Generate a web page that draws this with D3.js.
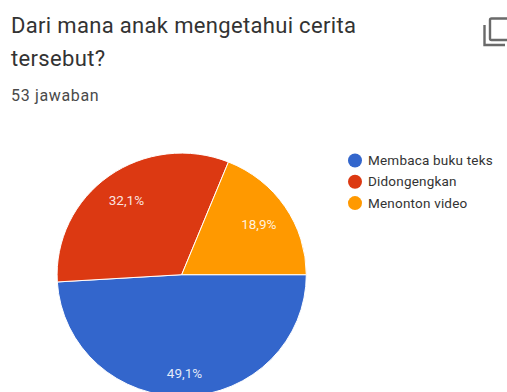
<!DOCTYPE html>
<html>
<head>
<meta charset="utf-8">
<script src="https://cdn.jsdelivr.net/npm/d3@7/dist/d3.min.js"></script>
<style>
html, body { margin: 0; padding: 0; background: #fff; overflow: hidden; }
svg { display: block; }
text { font-family: Roboto, sans-serif; }
</style>
</head>
<body>
<svg id="chart" width="507" height="392"></svg>
<script>
// Survey answers, in percent as printed on the slices
const categories = ["Membaca buku teks", "Didongengkan", "Menonton video"];
const shares = [49.1, 32.1, 18.9];
const shareLabels = ["49,1%", "32,1%", "18,9%"];
const colors = ["#3366cc", "#dc3912", "#ff9900"];
const titleLines = ["Dari mana anak mengetahui cerita", "tersebut?"];
const subtitle = "53 jawaban";

const svg = d3.select("#chart");

// Heading block
svg.selectAll("text.title")
  .data(titleLines)
  .join("text")
  .attr("class", "title")
  .attr("x", 11)
  .attr("y", (d, i) => 33 + i * 33)
  .attr("font-size", 22)
  .attr("letter-spacing", 0.33)
  .attr("fill", "#333")
  .text(d => d);

svg.append("text")
  .attr("x", 11)
  .attr("y", 101)
  .attr("font-size", 16)
  .attr("letter-spacing", 0.65)
  .attr("fill", "#4a4a4a")
  .text(subtitle);

// Copy-chart icon, running off the right edge
const icon = svg.append("g")
  .attr("fill", "none")
  .attr("stroke", "#6a6a6a")
  .attr("stroke-width", 2.4);
icon.append("path").attr("d", "M484.5 25V45H505");
icon.append("rect").attr("x", 490).attr("y", 18.5).attr("width", 24).attr("height", 21.5).attr("rx", 1.5);

// Pie, clockwise from three o'clock
const cx = 181.7, cy = 274.7, rx = 124.6, ry = 121.6;
const pie = d3.pie().sort(null).startAngle(Math.PI / 2).endAngle(Math.PI / 2 + 2 * Math.PI);
const arcs = pie(shares);
const arc = d3.arc().innerRadius(0).outerRadius(rx);

const pieGroup = svg.append("g")
  .attr("transform", `translate(${cx},${cy}) scale(1,${ry / rx})`);

pieGroup.selectAll("path")
  .data(arcs)
  .join("path")
  .attr("d", arc)
  .attr("fill", (d, i) => colors[i])
  .attr("stroke", "#fff")
  .attr("stroke-width", 1);

// Percent labels sit at roughly three quarters of the radius
const labelArc = d3.arc().innerRadius(93).outerRadius(93);
const labelNudge = [8, 0, 1];
svg.selectAll("text.share")
  .data(arcs)
  .join("text")
  .attr("class", "share")
  .attr("x", (d, i) => cx + labelArc.centroid(d)[0] - (i === 1 ? 1 : 0))
  .attr("y", (d, i) => cy + labelArc.centroid(d)[1] * (ry / rx) + labelNudge[i] + 4.5)
  .attr("text-anchor", "middle")
  .attr("font-size", 13.5)
  .attr("fill", "#fff")
  .attr("fill-opacity", 0.88)
  .text((d, i) => shareLabels[i]);

// Legend
const legend = svg.selectAll("g.entry")
  .data(categories)
  .join("g")
  .attr("class", "entry")
  .attr("transform", (d, i) => `translate(355,${160.5 + i * 21.3})`);

legend.append("circle")
  .attr("r", 7)
  .attr("fill", (d, i) => colors[i]);

legend.append("text")
  .attr("x", 13)
  .attr("y", 4.6)
  .attr("font-size", 13.5)
  .attr("letter-spacing", 0.2)
  .attr("fill", "#333")
  .text(d => d);
</script>
</body>
</html>
